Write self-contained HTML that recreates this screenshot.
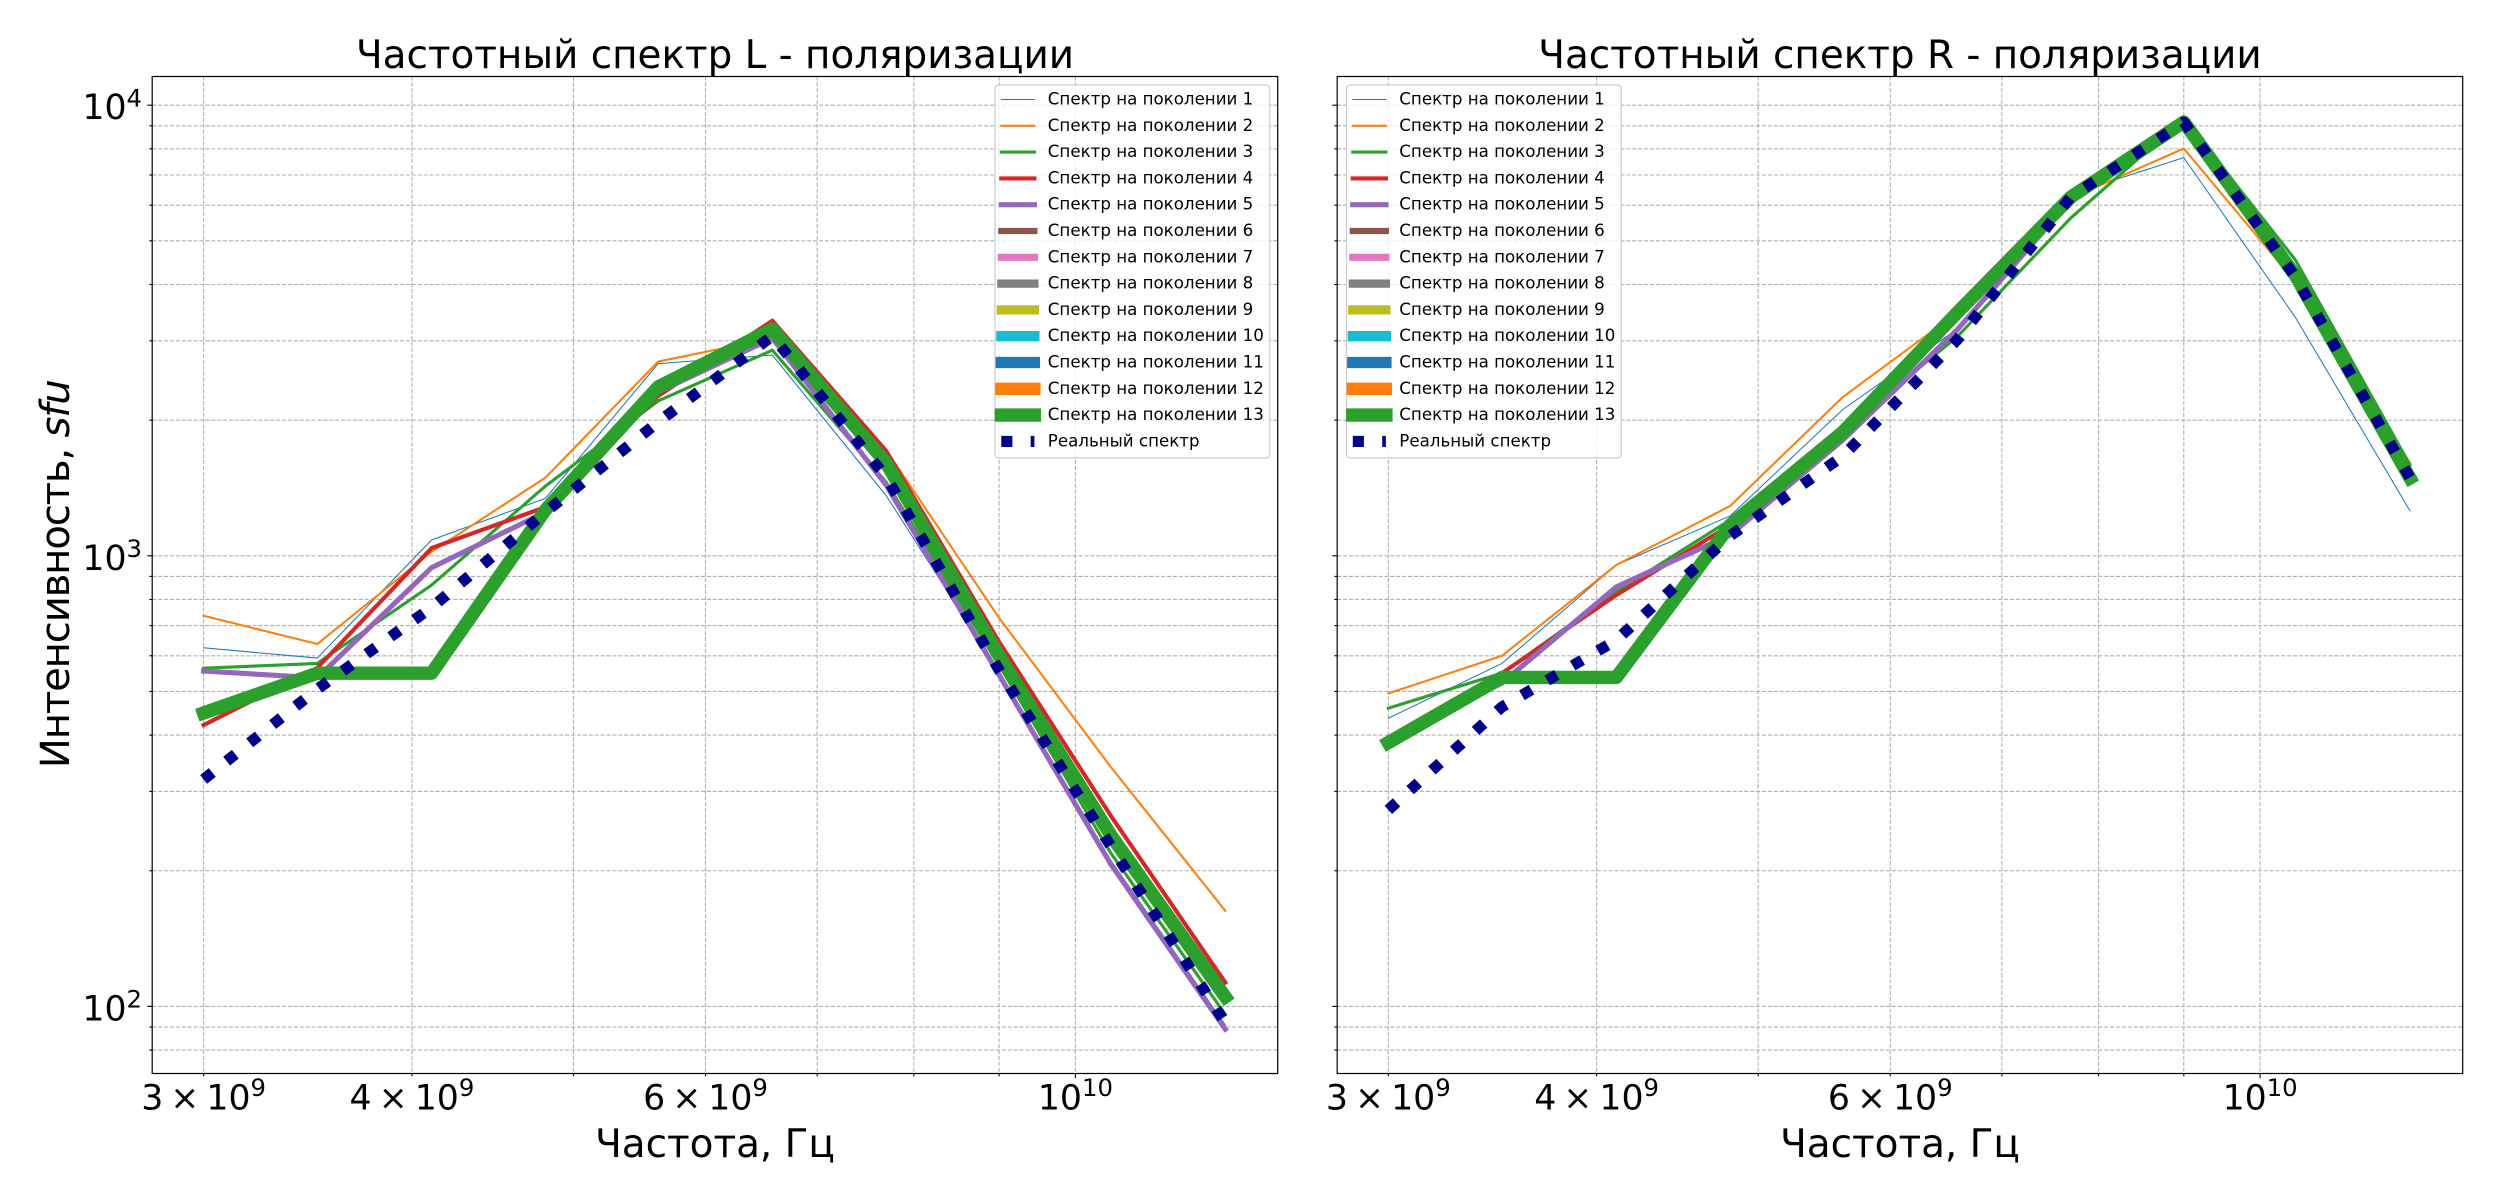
<!DOCTYPE html>
<html lang="ru">
<head>
<meta charset="utf-8">
<title>Частотный спектр</title>
<style>
html,body{margin:0;padding:0;background:#fff;}
svg{display:block;font-family:"DejaVu Sans","Liberation Sans","Noto Sans CJK SC",sans-serif;}
</style>
</head>
<body>
<svg id="figure" xmlns="http://www.w3.org/2000/svg" width="2500" height="1200" viewBox="0 0 2500 1200">
  <rect x="0" y="0" width="2500" height="1200" fill="#fff"/>
  <defs>
    <clipPath id="clip-left"><rect x="152.2" y="76.5" width="1125.5" height="997"/></clipPath>
    <clipPath id="clip-right"><rect x="1337.2" y="76.5" width="1125.5" height="997"/></clipPath>
  </defs>
  <g id="panel-left"></g>
  <g id="panel-right"></g>
  <text x="715" y="68" font-size="38.9" text-anchor="middle">Частотный спектр L - поляризации</text>
  <text x="1900" y="68" font-size="38.9" text-anchor="middle">Частотный спектр R - поляризации</text>
  <text x="715" y="1157" font-size="38.9" text-anchor="middle">Частота, Гц</text>
  <text x="1900" y="1157" font-size="38.9" text-anchor="middle">Частота, Гц</text>
  <text transform="translate(69,573.7) rotate(-90)" font-size="40.3" text-anchor="middle" textLength="389" lengthAdjust="spacing">Интенсивность, <tspan font-style="italic">sfu</tspan></text>
</svg>
<script>
const freqs = [3e9, 3.51e9, 4.11e9, 4.81e9, 5.62e9, 6.58e9, 7.7e9, 9.0e9, 10.5e9, 12.3e9];

const L1 = [625, 593, 1084, 1341, 2670, 2790, 1360, 552, 211, 91];
const L2 = [736, 637, 1021, 1491, 2698, 3040, 1717, 728, 340, 163];
const L3 = [563, 577, 861, 1428, 2206, 2860, 1458, 572, 219, 96];
const L4 = [421, 564, 1040, 1283, 2263, 3325, 1710, 644, 265, 113];
const L5 = [555, 536, 941, 1250, 2310, 3040, 1436, 544, 207, 89];
const L6 = [448, 549, 549, 1264, 2369, 3185, 1607, 600, 240, 105];
const L7 = [448, 549, 549, 1264, 2369, 3185, 1607, 600, 240, 105];
const L8 = [448, 549, 549, 1264, 2369, 3185, 1607, 600, 240, 105];
const L9 = [448, 549, 549, 1264, 2369, 3185, 1607, 600, 240, 105];
const L10 = [448, 549, 549, 1264, 2369, 3185, 1607, 600, 240, 105];
const L11 = [448, 549, 549, 1264, 2369, 3185, 1607, 600, 240, 105];
const L12 = [448, 549, 549, 1264, 2369, 3185, 1607, 600, 240, 105];
const L13 = [448, 549, 549, 1264, 2369, 3185, 1607, 600, 240, 105];
const LReal = [319, 506, 768, 1250, 1981, 3075, 1496, 558, 227, 92];

const R1 = [436, 577, 954, 1226, 2112, 3185, 6350, 7650, 3380, 1258];
const R2 = [495, 600, 954, 1290, 2251, 3460, 6220, 8015, 4050, 1607];
const R3 = [459, 549, 832, 1201, 1902, 3060, 5620, 9340, 4535, 1590];
const R4 = [380, 549, 818, 1170, 1845, 3388, 6160, 9175, 4186, 1488];
const R5 = [394, 522, 853, 1112, 1807, 3170, 6160, 9274, 4093, 1488];
const R6 = [385, 537, 537, 1170, 1882, 3460, 6255, 9175, 4186, 1488];
const R7 = [385, 537, 537, 1170, 1882, 3460, 6255, 9175, 4186, 1488];
const R8 = [385, 537, 537, 1170, 1882, 3460, 6255, 9175, 4186, 1488];
const R9 = [385, 537, 537, 1170, 1882, 3460, 6255, 9175, 4186, 1488];
const R10 = [385, 537, 537, 1170, 1882, 3460, 6255, 9175, 4186, 1488];
const R11 = [385, 537, 537, 1170, 1882, 3460, 6255, 9175, 4186, 1488];
const R12 = [385, 537, 537, 1170, 1882, 3460, 6255, 9175, 4186, 1488];
const R13 = [385, 537, 537, 1170, 1882, 3460, 6255, 9175, 4186, 1488];
const RReal = [273, 462, 650, 1107, 1665, 3012, 6255, 9175, 4155, 1488];

const legendLabels = [
  'Спектр на поколении 1', 'Спектр на поколении 2', 'Спектр на поколении 3',
  'Спектр на поколении 4', 'Спектр на поколении 5', 'Спектр на поколении 6',
  'Спектр на поколении 7', 'Спектр на поколении 8', 'Спектр на поколении 9',
  'Спектр на поколении 10', 'Спектр на поколении 11', 'Спектр на поколении 12',
  'Спектр на поколении 13', 'Реальный спектр'
];
const seriesColors = ['#1f77b4', '#ff7f0e', '#2ca02c', '#d62728', '#9467bd', '#8c564b', '#e377c2', '#7f7f7f', '#bcbd22', '#17becf', '#1f77b4', '#ff7f0e', '#2ca02c'];
const realColor = '#00008b';

const xGridValues = [3e9, 4e9, 5e9, 6e9, 7e9, 8e9, 9e9, 1e10];
const xTickValues = [3e9, 4e9, 6e9, 1e10];
const xTickMantissas = ['3', '4', '6', ''];
const xTickExponents = ['9', '9', '9', '10'];
const yGridValues = [80, 90, 100, 200, 300, 400, 500, 600, 700, 800, 900, 1000, 2000, 3000, 4000, 5000, 6000, 7000, 8000, 9000, 10000];
const yTickValues = [100, 1000, 10000];
const yTickExponents = ['2', '3', '4'];

const NS = 'http://www.w3.org/2000/svg';
const PLOT_TOP = 76.5, PLOT_BOTTOM = 1073.5, PLOT_W = 1125.5;

function yScale(v) {
  return 1006.4 - 450.6 * Math.log10(v / 100);
}
function xScale(f, offset) {
  return 1075.4 + 1667.3 * Math.log10(f / 1e10) + offset;
}
function node(tag, parent, attrs) {
  const el = document.createElementNS(NS, tag);
  for (const k in attrs) el.setAttribute(k, attrs[k]);
  parent.appendChild(el);
  return el;
}
function pathFor(values, offset) {
  return values.map(function (v, i) {
    return (i ? 'L' : 'M') + xScale(freqs[i], offset).toFixed(2) + ' ' + yScale(v).toFixed(2);
  }).join(' ');
}

function drawPanel(panelId, offset, plotLeft, clipId, series, real, legendLeft, showYLabels, key) {
  const panel = document.getElementById(panelId);
  const plotRight = plotLeft + PLOT_W;

  const grid = node('g', panel, { stroke: '#b0b0b0', 'stroke-width': 1.1, 'stroke-dasharray': '4.1 1.8', fill: 'none' });
  
  
  xGridValues.forEach(function (f) {
    const x = xScale(f, offset);
    const line = node('line', grid, { x1: x, x2: x, y1: PLOT_TOP, y2: PLOT_BOTTOM });
    
    
  });
  yGridValues.forEach(function (v) {
    const y = yScale(v);
    const line = node('line', grid, { x1: plotLeft, x2: plotRight, y1: y, y2: y });
    
    
  });

  const lines = node('g', panel, { 'clip-path': 'url(#' + clipId + ')', fill: 'none' });
  
  
  series.forEach(function (values, i) {
    const p = node('path', lines, {
      d: pathFor(values, offset), stroke: seriesColors[i], 'stroke-width': (i + 1) * 1.03,
      'stroke-linecap': 'square', 'stroke-linejoin': 'round'
    });
    
    
  });
  const realLine = node('path', lines, {
    d: pathFor(real, offset), stroke: realColor, 'stroke-width': 11.1,
    'stroke-dasharray': '11.1 18.3', 'stroke-linecap': 'butt', 'stroke-linejoin': 'round'
  });
  
  

  const ticks = node('g', panel, { stroke: '#000', 'stroke-width': 1.1 });
  
  
  xGridValues.forEach(function (f) {
    const x = xScale(f, offset);
    const len = f === 1e10 ? 4.9 : 2.8;
    node('line', ticks, { x1: x, x2: x, y1: PLOT_BOTTOM, y2: PLOT_BOTTOM + len });
  });
  yGridValues.forEach(function (v) {
    const y = yScale(v);
    const len = yTickValues.indexOf(v) >= 0 ? 4.9 : 2.8;
    node('line', ticks, { x1: plotLeft, x2: plotLeft - len, y1: y, y2: y });
  });

  const frame = node('rect', panel, { x: plotLeft, y: PLOT_TOP, width: PLOT_W, height: PLOT_BOTTOM - PLOT_TOP, fill: 'none', stroke: '#000', 'stroke-width': 1.2 });
  
  

  xTickValues.forEach(function (f, i) {
    const t = node('text', panel, { x: xScale(f, offset), y: 1109.5, 'font-size': 34.7, 'text-anchor': 'middle' });
    
    
    if (xTickMantissas[i]) {
      const m = node('tspan', t, {});
      m.textContent = xTickMantissas[i];
      const times = node('tspan', t, { dx: 7 });
      times.textContent = '×';
      const base = node('tspan', t, { dx: 7 });
      base.textContent = '10';
    } else {
      const base = node('tspan', t, {});
      base.textContent = '10';
    }
    const exp = node('tspan', t, { dy: -13.5, 'font-size': 24.3 });
    exp.textContent = xTickExponents[i];
  });

  if (showYLabels) {
    yTickValues.forEach(function (v, i) {
      const t = node('text', panel, { x: 142, y: yScale(v) + 14, 'font-size': 34.7, 'text-anchor': 'end' });
      
      
      const base = node('tspan', t, {});
      base.textContent = '10';
      const exp = node('tspan', t, { dy: -12.8, 'font-size': 24.3 });
      exp.textContent = yTickExponents[i];
    });
  }

  const legend = node('g', panel, {});
  
  
  const box = node('rect', legend, { x: legendLeft, y: 85, width: 274.8, height: 373, rx: 3.5, ry: 3.5, fill: '#fff', 'fill-opacity': 0.8, stroke: '#ccc', 'stroke-width': 1.2 });
  
  
  legendLabels.forEach(function (label, i) {
    const rowY = 99.5 + 26.3 * i;
    const hx1 = legendLeft + 6.3, hx2 = legendLeft + 39.4;
    const isReal = i === legendLabels.length - 1;
    const h = node('line', legend, {
      x1: hx1, x2: hx2, y1: rowY, y2: rowY,
      stroke: isReal ? realColor : seriesColors[i],
      'stroke-width': isReal ? 11.1 : (i + 1) * 1.03,
      'stroke-linecap': isReal ? 'butt' : 'square'
    });
    if (isReal) h.setAttribute('stroke-dasharray', '11.1 18.3');
    
    
    const t = node('text', legend, { x: legendLeft + 52.8, y: rowY + 5, 'font-size': 16.67 });
    t.textContent = label;
    
    
  });
}

drawPanel('panel-left', 0, 152.2, 'clip-left',
  [L1, L2, L3, L4, L5, L6, L7, L8, L9, L10, L11, L12, L13], LReal, 995, true, 'left');
drawPanel('panel-right', 1184.7, 1337.2, 'clip-right',
  [R1, R2, R3, R4, R5, R6, R7, R8, R9, R10, R11, R12, R13], RReal, 1346.5, false, 'right');
</script>
</body>
</html>
